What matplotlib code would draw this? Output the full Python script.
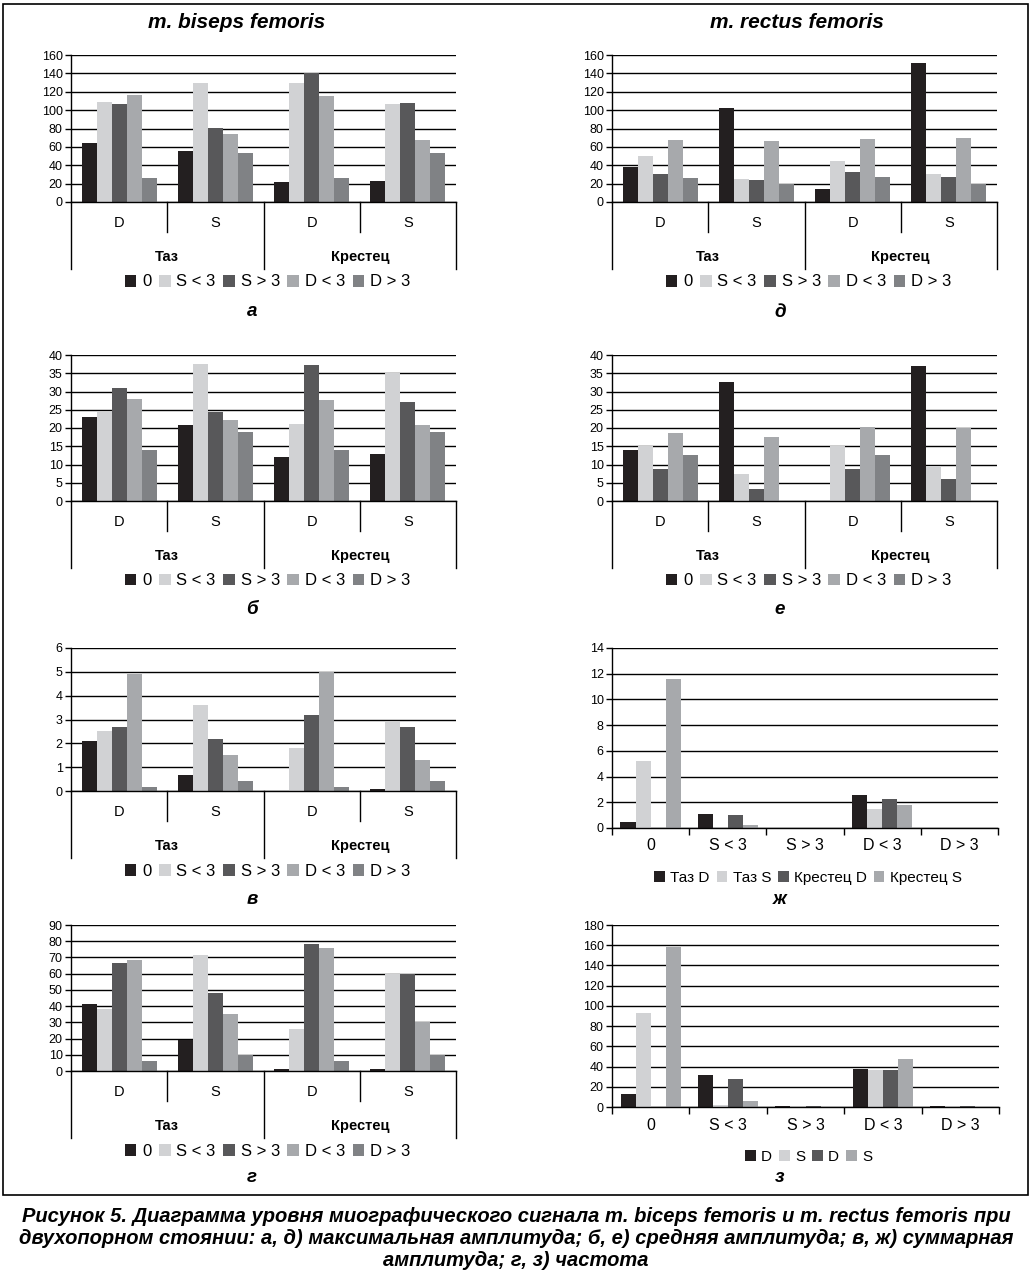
import matplotlib
matplotlib.use("Agg")
import matplotlib.pyplot as plt
from matplotlib.patches import Patch, Rectangle

plt.rcParams['font.family'] = ['Liberation Sans', 'DejaVu Sans']

W, H = 1034, 1274

# series colours
c0 = "#231f20"
c_sl = "#d1d2d4"
c_sg = "#58585a"
c_dl = "#a7a9ac"
c_dg = "#808285"

series5 = ["0", "S < 3", "S > 3", "D < 3", "D > 3"]
colors5 = [c0, c_sl, c_sg, c_dl, c_dg]
sides = ["D", "S", "D", "S"]
groups = ["Таз", "Крестец"]

# values per side: [Таз D, Таз S, Крестец D, Крестец S], each row = series5
max_bf = [[64, 109, 107, 117, 26],
          [56, 130, 81, 74, 53],
          [22, 130, 140, 115, 26],
          [23, 107, 108, 68, 53]]
max_rf = [[38, 50, 31, 67, 26],
          [102, 25, 24, 66, 20],
          [14, 45, 33, 69, 27],
          [151, 31, 27, 70, 20]]
mean_bf = [[23, 24.5, 31, 28, 14],
           [20.7, 37.5, 24.5, 22.3, 18.8],
           [12, 21.2, 37.2, 27.8, 13.9],
           [12.8, 35, 27.2, 20.7, 18.8]]
mean_rf = [[14.1, 15.2, 8.8, 18.5, 12.5],
           [32.7, 7.5, 3.2, 17.4, 0],
           [0, 15.1, 8.8, 20.4, 12.5],
           [37, 9.6, 6.1, 20.1, 0]]
sum_bf = [[2.1, 2.5, 2.7, 4.9, 0.17],
          [0.68, 3.6, 2.2, 1.5, 0.42],
          [0, 1.8, 3.2, 5.0, 0.17],
          [0.08, 2.9, 2.7, 1.3, 0.42]]
freq_bf = [[41, 38, 66.5, 68.5, 6],
           [19, 71.5, 48, 35, 10],
           [1, 26, 78, 76, 6],
           [1.5, 60, 60, 30.5, 10]]

# rectus sum / freq: categories = series5, series = 4 side groups
sum_rf_labels = ["Таз D", "Таз S", "Крестец D", "Крестец S"]
sum_rf = [[0.5, 1.1, 0, 2.6, 0],
          [5.2, 0, 0, 1.5, 0],
          [0, 1.0, 0, 2.25, 0],
          [11.6, 0.25, 0, 1.8, 0]]
freq_rf_labels = ["D", "S", "D", "S"]
freq_rf = [[13, 32, 1, 38, 1],
           [93, 1.5, 0, 37, 0],
           [0, 28, 1, 37, 1],
           [158, 5.5, 0, 47, 0]]
colors4 = [c0, c_sl, c_sg, c_dl]

fig = plt.figure(figsize=(W / 100, H / 100), dpi=100)


def px_axes(x0, y0, x1, y1):
    return fig.add_axes([x0 / W, 1 - y1 / H, (x1 - x0) / W, (y1 - y0) / H])


def base_style(ax, ymax, step):
    ax.set_ylim(0, ymax)
    ax.set_yticks(range(0, ymax + 1, step))
    ax.yaxis.grid(True, color="black", lw=1)
    ax.set_axisbelow(True)
    for s in ["top", "right"]:
        ax.spines[s].set_visible(False)
    ax.spines["left"].set_linewidth(1)
    ax.spines["bottom"].set_linewidth(1)
    ax.tick_params(axis="y", length=4, width=1, labelsize=9, pad=2)


def legend(handles_colors, labels, cx, cy, fs=12):
    hs = [Patch(facecolor=c, edgecolor="none") for c in handles_colors]
    fig.legend(hs, labels, loc="center", bbox_to_anchor=(cx / W, 1 - cy / H),
               ncol=len(labels), frameon=False, fontsize=fs,
               handlelength=0.7, handleheight=0.7, handletextpad=0.35,
               columnspacing=0.45, borderpad=0)


def side_panel(box, data, ymax, step, leg_y):
    x0, y0, x1, y1 = box
    ax = px_axes(x0, y0, x1, y1)
    hpx = y1 - y0
    bw = 0.156
    for i in range(5):
        xs = [g + (i - 2) * bw for g in range(4)]
        ax.bar(xs, [row[i] for row in data], width=bw, color=colors5[i], lw=0)
    ax.set_xlim(-0.5, 3.5)
    base_style(ax, ymax, step)
    ax.set_xticks([])
    tr = ax.get_xaxis_transform()
    short = -30 / hpx
    long_ = -67 / hpx
    for xv, yb in [(-0.5, long_), (0.5, short), (1.5, long_), (2.5, short), (3.5, long_)]:
        ax.plot([xv, xv], [0, yb], color="black", lw=1, transform=tr, clip_on=False)
    for g, lab in enumerate(sides):
        ax.text(g, -21 / hpx, lab, transform=tr, ha="center", va="center", fontsize=10.5)
    for g, lab in enumerate(groups):
        ax.text(2 * g + 0.5, -55 / hpx, lab, transform=tr, ha="center", va="center",
                fontsize=10.5, fontweight="bold")
    legend(colors5, series5, (x0 + x1) / 2 + 4, leg_y)
    return ax


def cat_panel(box, data, ymax, step, labels, leg_y):
    x0, y0, x1, y1 = box
    ax = px_axes(x0, y0, x1, y1)
    bw = 0.195
    for i in range(4):
        xs = [c + (i - 1.5) * bw for c in range(5)]
        ax.bar(xs, data[i], width=bw, color=colors4[i], lw=0)
    ax.set_xlim(-0.5, 4.5)
    base_style(ax, ymax, step)
    ax.set_xticks([c - 0.5 for c in range(6)], minor=False)
    ax.set_xticklabels([])
    ax.tick_params(axis="x", length=5, width=1, direction="out")
    tr = ax.get_xaxis_transform()
    for c, lab in enumerate(series5):
        ax.text(c, -18 / (y1 - y0), lab, transform=tr, ha="center", va="center", fontsize=11.5)
    legend(colors4, labels, (x0 + x1) / 2 + 3, leg_y, fs=11)
    return ax


side_panel((71, 55, 456, 202), max_bf, 160, 20, 282)
side_panel((612, 55, 997, 202), max_rf, 160, 20, 282)
side_panel((71, 355, 456, 501), mean_bf, 40, 5, 581)
side_panel((612, 355, 997, 501), mean_rf, 40, 5, 581)
side_panel((71, 648, 456, 791), sum_bf, 6, 1, 871)
cat_panel((612, 648, 998, 828), sum_rf, 14, 2, sum_rf_labels, 878)
side_panel((71, 925, 456, 1071), freq_bf, 90, 10, 1151)
cat_panel((612, 925, 999, 1107), freq_rf, 180, 20, freq_rf_labels, 1157)

# titles and panel letters
fig.text(237 / W, 1 - 22 / H, "m. biseps femoris", ha="center", va="center",
         fontsize=15, fontweight="bold", style="italic")
fig.text(797 / W, 1 - 22 / H, "m. rectus femoris", ha="center", va="center",
         fontsize=15, fontweight="bold", style="italic")
for lab, x, y in [("а", 252, 311), ("д", 780, 312), ("б", 252, 610), ("е", 780, 610),
                  ("в", 252, 900), ("ж", 780, 900), ("г", 252, 1177), ("з", 780, 1177)]:
    fig.text(x / W, 1 - y / H, lab, ha="center", va="center", fontsize=13.5,
             fontweight="bold", style="italic")

# frame around the charts
fig.patches.append(Rectangle((3 / W, 1 - 1195 / H), 1025 / W, 1191 / H, transform=fig.transFigure,
                             fill=False, edgecolor="black", lw=1.2))

caption = ("Рисунок 5. Диаграмма уровня миографического сигнала m. biceps femoris и m. rectus femoris при\n"
           "двухопорном стоянии: а, д) максимальная амплитуда; б, е) средняя амплитуда; в, ж) суммарная\n"
           "амплитуда; г, з) частота")
fig.text(516 / W, 1 - 1238 / H, caption, ha="center", va="center", fontsize=14.5,
         fontweight="bold", style="italic", linespacing=1.2)

fig.savefig("out.png", dpi=100)
